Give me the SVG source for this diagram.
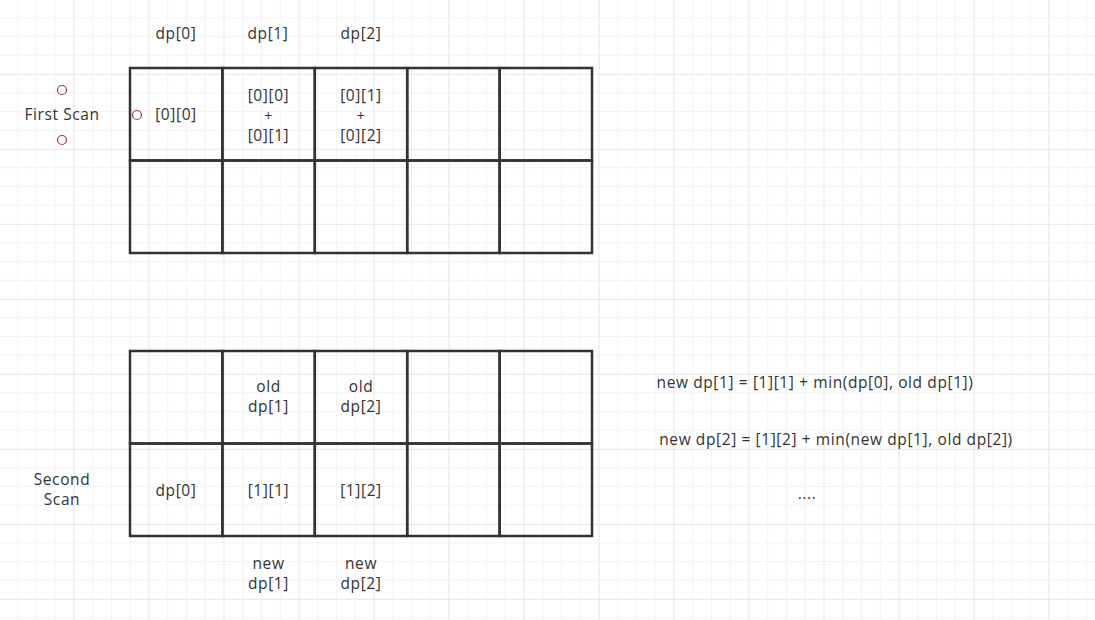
<svg xmlns="http://www.w3.org/2000/svg" width="1095" height="620" viewBox="0 0 1095 620">
<defs>
<pattern id="minor" x="-1.5" y="-1.5" width="18.75" height="18.75" patternUnits="userSpaceOnUse">
<path d="M0 0H18.75M0 0V18.75" fill="none" stroke="#f1f1f1" stroke-width="1.5"/>
</pattern>
<pattern id="major" x="-1.5" y="-1" width="75" height="75" patternUnits="userSpaceOnUse">
<path d="M0 0H75M0 0V75" fill="none" stroke="#e6e6e6" stroke-width="1.5"/>
</pattern>
<style>
text{font-family:"Open Sans","Liberation Sans",sans-serif;font-size:15.5px;letter-spacing:0.6px;fill:#333;text-anchor:middle;dominant-baseline:central}
.cell{fill:none;stroke:#333;stroke-width:2.5}
.pt{fill:none;stroke:#9b3b3b;stroke-width:1.2}
.plus{font-size:14px}
</style>
</defs>
<rect width="1095" height="620" fill="#fff"/>
<rect width="1095" height="620" fill="url(#minor)"/>
<rect width="1095" height="620" fill="url(#major)"/>

<g id="headers">
<text x="176" y="33">dp[0]</text>
<text x="268" y="33">dp[1]</text>
<text x="361" y="33">dp[2]</text>
</g>

<g id="first-scan-label">
<circle class="pt" cx="62" cy="90" r="4.5"/>
<text x="62" y="114">First Scan</text>
<circle class="pt" cx="62" cy="140" r="4.5"/>
</g>

<g id="table1">
<g id="t1-r0c0"><rect class="cell" x="130" y="68" width="92.4" height="92.5"/><circle class="pt" cx="137" cy="115" r="4.5"/><text x="176" y="114">[0][0]</text></g>
<g id="t1-r0c1"><rect class="cell" x="222.4" y="68" width="92.4" height="92.5"/><text x="268.5" y="95">[0][0]</text><text class="plus" x="268.5" y="115">+</text><text x="268.5" y="135">[0][1]</text></g>
<g id="t1-r0c2"><rect class="cell" x="314.8" y="68" width="92.4" height="92.5"/><text x="361" y="95">[0][1]</text><text class="plus" x="361" y="115">+</text><text x="361" y="135">[0][2]</text></g>
<g id="t1-r0c3"><rect class="cell" x="407.2" y="68" width="92.4" height="92.5"/></g>
<g id="t1-r0c4"><rect class="cell" x="499.6" y="68" width="92.4" height="92.5"/></g>
<g id="t1-r1c0"><rect class="cell" x="130" y="160.5" width="92.4" height="92.5"/></g>
<g id="t1-r1c1"><rect class="cell" x="222.4" y="160.5" width="92.4" height="92.5"/></g>
<g id="t1-r1c2"><rect class="cell" x="314.8" y="160.5" width="92.4" height="92.5"/></g>
<g id="t1-r1c3"><rect class="cell" x="407.2" y="160.5" width="92.4" height="92.5"/></g>
<g id="t1-r1c4"><rect class="cell" x="499.6" y="160.5" width="92.4" height="92.5"/></g>
</g>

<g id="table2">
<g id="t2-r0c0"><rect class="cell" x="130" y="351" width="92.4" height="92.5"/></g>
<g id="t2-r0c1"><rect class="cell" x="222.4" y="351" width="92.4" height="92.5"/><text x="268.5" y="386">old</text><text x="268.5" y="406">dp[1]</text></g>
<g id="t2-r0c2"><rect class="cell" x="314.8" y="351" width="92.4" height="92.5"/><text x="361" y="386">old</text><text x="361" y="406">dp[2]</text></g>
<g id="t2-r0c3"><rect class="cell" x="407.2" y="351" width="92.4" height="92.5"/></g>
<g id="t2-r0c4"><rect class="cell" x="499.6" y="351" width="92.4" height="92.5"/></g>
<g id="t2-r1c0"><rect class="cell" x="130" y="443.5" width="92.4" height="92.5"/><text x="176" y="490">dp[0]</text></g>
<g id="t2-r1c1"><rect class="cell" x="222.4" y="443.5" width="92.4" height="92.5"/><text x="268.5" y="490">[1][1]</text></g>
<g id="t2-r1c2"><rect class="cell" x="314.8" y="443.5" width="92.4" height="92.5"/><text x="361" y="490">[1][2]</text></g>
<g id="t2-r1c3"><rect class="cell" x="407.2" y="443.5" width="92.4" height="92.5"/></g>
<g id="t2-r1c4"><rect class="cell" x="499.6" y="443.5" width="92.4" height="92.5"/></g>
</g>

<g id="second-scan-label">
<text x="62" y="479">Second</text>
<text x="62" y="499">Scan</text>
</g>

<g id="new-labels">
<text x="268.5" y="563">new</text><text x="268.5" y="583">dp[1]</text>
<text x="361" y="563">new</text><text x="361" y="583">dp[2]</text>
</g>

<g id="formulas">
<text x="815" y="382">new dp[1] = [1][1] + min(dp[0], old dp[1])</text>
<text x="836" y="439">new dp[2] = [1][2] + min(new dp[1], old dp[2])</text>
<text x="807" y="493">....</text>
</g>

<g id="connectors"></g>
</svg>
